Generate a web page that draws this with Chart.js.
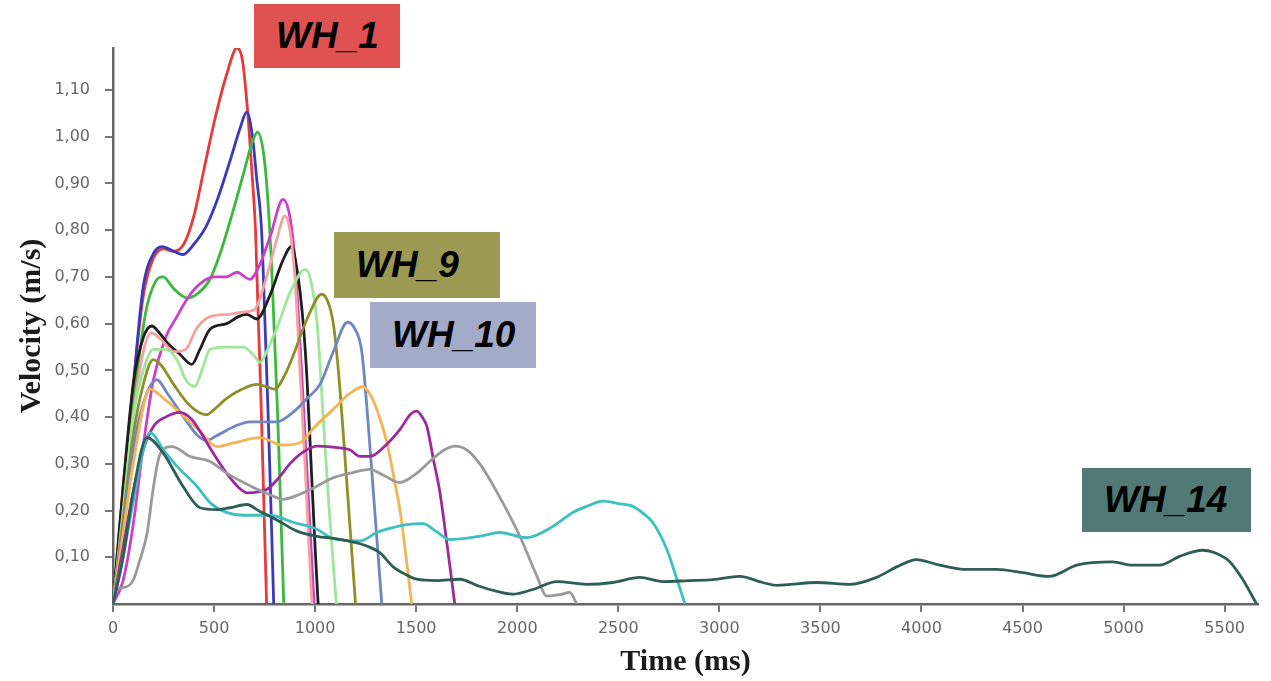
<!DOCTYPE html>
<html lang="en">
<head>
    <meta charset="UTF-8">
    <title>Velocity vs Time</title>
    <script src="https://cdn.jsdelivr.net/npm/chart.js"></script>
    <style>
        html, body { margin: 0; padding: 0; background: #fff; }
        .wrap { position: relative; width: 1271px; height: 681px; }
        .tag { position: absolute; box-sizing: border-box; padding-left: 22px; display: flex; align-items: center;
               font: italic bold 37px "Liberation Sans", Arial, sans-serif; color: #000; }
    </style>
</head>
<body>
<div class="wrap">
    <canvas id="velChart"></canvas>
    <div class="tag" style="left:254px; top:4px; width:146px; height:64px; background:#e05152;">WH_1</div>
    <div class="tag" style="left:334px; top:232px; width:166px; height:66px; background:#9c9a52;">WH_9</div>
    <div class="tag" style="left:370px; top:302px; width:166px; height:66px; background:#a3abc9;">WH_10</div>
    <div class="tag" style="left:1082px; top:468px; width:169px; height:64px; background:#517a77;">WH_14</div>
</div>

<script>
    // axis ticks
    const xTicks = [0, 500, 1000, 1500, 2000, 2500, 3000, 3500, 4000, 4500, 5000, 5500];
    const yTicks = [0.1, 0.2, 0.3, 0.4, 0.5, 0.6, 0.7, 0.8, 0.9, 1.0, 1.1];

    // [time ms, velocity m/s]
    const wh1 = [[0,0],[50,0.25],[100,0.47],[150,0.66],[200,0.74],[250,0.76],[300,0.755],[350,0.77],[400,0.83],[450,0.93],[500,1.03],[560,1.13],[614,1.19],[640,1.165],[663,1.07],[688,0.92],[705,0.8],[718,0.62],[732,0.44],[746,0.22],[760,0]];
    const blueRun = [[0,0],[50,0.23],[84,0.37],[120,0.56],[150,0.68],[200,0.75],[243,0.765],[300,0.755],[347,0.748],[400,0.77],[463,0.81],[520,0.87],[580,0.95],[630,1.02],[662,1.053],[690,1.0],[711,0.91],[735,0.8],[752,0.6],[768,0.4],[782,0.2],[795,0]];
    const greenRun = [[0,0],[50,0.2],[100,0.42],[160,0.62],[210,0.69],[248,0.70],[300,0.675],[366,0.655],[420,0.665],[480,0.695],[530,0.75],[580,0.82],[645,0.92],[690,0.99],[715,1.01],[743,0.97],[762,0.89],[785,0.72],[800,0.56],[815,0.4],[830,0.2],[845,0]];
    const magentaRun = [[0,0],[50,0.05],[100,0.17],[150,0.34],[200,0.48],[260,0.57],[316,0.615],[370,0.655],[430,0.685],[500,0.70],[560,0.70],[613,0.71],[677,0.695],[720,0.72],[780,0.79],[841,0.866],[870,0.84],[895,0.76],[920,0.6],[945,0.4],[970,0.2],[995,0]];
    const salmonRun = [[0,0],[50,0.18],[100,0.4],[150,0.54],[190,0.58],[240,0.565],[300,0.54],[360,0.545],[414,0.59],[480,0.615],[578,0.62],[645,0.625],[700,0.63],[760,0.70],[810,0.78],[850,0.83],[875,0.80],[900,0.7],[925,0.5],[950,0.3],[970,0.12],[985,0]];
    const blackRun = [[0,0],[50,0.25],[100,0.47],[150,0.57],[192,0.595],[230,0.58],[267,0.56],[330,0.535],[390,0.513],[430,0.545],[480,0.588],[562,0.60],[620,0.615],[662,0.62],[711,0.61],[776,0.66],[840,0.735],[885,0.766],[905,0.73],[925,0.67],[945,0.58],[960,0.48],[980,0.3],[1000,0.12],[1015,0]];
    const lightGreenRun = [[0,0],[50,0.2],[100,0.4],[150,0.5],[200,0.545],[260,0.545],[320,0.52],[360,0.48],[405,0.466],[440,0.5],[480,0.545],[560,0.55],[645,0.55],[700,0.53],[727,0.517],[770,0.55],[810,0.59],[880,0.67],[950,0.716],[980,0.69],[1010,0.6],[1040,0.4],[1070,0.2],[1105,0]];
    const wh9 = [[0,0],[50,0.18],[100,0.36],[150,0.47],[199,0.523],[240,0.51],[300,0.47],[380,0.425],[463,0.405],[510,0.42],[562,0.44],[640,0.46],[711,0.47],[760,0.465],[800,0.46],[850,0.49],[890,0.53],[960,0.61],[1033,0.663],[1065,0.645],[1090,0.6],[1115,0.5],[1140,0.36],[1170,0.18],[1200,0]];
    const wh10 = [[0,0],[50,0.16],[100,0.33],[150,0.43],[217,0.48],[270,0.45],[350,0.40],[420,0.36],[463,0.35],[512,0.36],[600,0.38],[677,0.39],[750,0.39],[810,0.39],[890,0.41],[960,0.44],[1024,0.47],[1090,0.54],[1160,0.603],[1195,0.59],[1231,0.54],[1260,0.4],[1295,0.2],[1330,0]];
    const orangeRun = [[0,0],[50,0.15],[100,0.3],[183,0.46],[250,0.44],[330,0.41],[430,0.37],[514,0.337],[600,0.345],[727,0.356],[841,0.34],[925,0.345],[1000,0.38],[1088,0.416],[1170,0.45],[1236,0.465],[1270,0.45],[1305,0.417],[1355,0.346],[1390,0.27],[1420,0.2],[1450,0.1],[1478,0]];
    const purpleRun = [[0,0],[50,0.12],[100,0.24],[150,0.33],[200,0.38],[260,0.40],[331,0.41],[390,0.395],[430,0.37],[500,0.32],[562,0.28],[620,0.25],[662,0.238],[760,0.245],[820,0.27],[875,0.30],[940,0.325],[1009,0.338],[1100,0.335],[1172,0.33],[1222,0.316],[1271,0.316],[1350,0.34],[1419,0.373],[1470,0.405],[1503,0.413],[1530,0.40],[1553,0.38],[1585,0.31],[1617,0.24],[1655,0.12],[1691,0]];
    const grayRun = [[0,0],[10,0.027],[50,0.035],[99,0.05],[130,0.09],[168,0.15],[200,0.25],[232,0.32],[292,0.337],[381,0.316],[480,0.305],[562,0.28],[692,0.25],[770,0.235],[841,0.224],[925,0.235],[1000,0.25],[1088,0.27],[1172,0.28],[1271,0.288],[1340,0.275],[1419,0.26],[1503,0.28],[1580,0.31],[1640,0.33],[1691,0.338],[1750,0.33],[1815,0.30],[1899,0.24],[2013,0.145],[2097,0.06],[2146,0.017],[2211,0.02],[2260,0.025],[2295,0]];
    const cyanRun = [[0,0],[50,0.1],[100,0.22],[150,0.33],[183,0.367],[250,0.33],[316,0.295],[415,0.252],[480,0.217],[562,0.196],[645,0.19],[776,0.19],[890,0.175],[1009,0.16],[1088,0.14],[1222,0.135],[1305,0.153],[1400,0.165],[1452,0.17],[1533,0.172],[1600,0.155],[1667,0.138],[1815,0.145],[1914,0.153],[2047,0.142],[2176,0.166],[2275,0.196],[2350,0.21],[2423,0.22],[2500,0.215],[2572,0.209],[2620,0.195],[2670,0.175],[2740,0.117],[2790,0.053],[2830,0]];
    const wh14 = [[0,0],[50,0.1],[100,0.24],[168,0.356],[247,0.324],[346,0.252],[430,0.206],[514,0.202],[578,0.206],[662,0.213],[727,0.198],[810,0.18],[910,0.156],[1009,0.145],[1100,0.14],[1172,0.134],[1256,0.124],[1320,0.11],[1385,0.08],[1440,0.065],[1503,0.053],[1600,0.05],[1716,0.053],[1800,0.04],[1864,0.031],[1978,0.021],[2077,0.031],[2196,0.048],[2344,0.042],[2473,0.046],[2606,0.057],[2720,0.048],[2850,0.05],[2967,0.052],[3101,0.059],[3215,0.046],[3284,0.04],[3482,0.046],[3645,0.042],[3778,0.057],[3880,0.08],[3976,0.095],[4075,0.085],[4223,0.074],[4372,0.074],[4500,0.067],[4634,0.059],[4768,0.083],[4946,0.09],[5045,0.083],[5178,0.083],[5277,0.102],[5391,0.115],[5460,0.108],[5524,0.091],[5589,0.053],[5658,0]];

    const runs = [
        { label: 'WH_14', data: wh14, color: '#2e5e56' },
        { label: 'cyan', data: cyanRun, color: '#3fbfbf' },
        { label: 'gray', data: grayRun, color: '#9a9a9a' },
        { label: 'purple', data: purpleRun, color: '#9c2a9c' },
        { label: 'orange', data: orangeRun, color: '#f2b457' },
        { label: 'WH_10', data: wh10, color: '#6f86c2' },
        { label: 'WH_9', data: wh9, color: '#8f8f2a' },
        { label: 'light green', data: lightGreenRun, color: '#9ee69a' },
        { label: 'salmon', data: salmonRun, color: '#f2a3a0' },
        { label: 'black', data: blackRun, color: '#1e1e1e' },
        { label: 'magenta', data: magentaRun, color: '#cc3fcc' },
        { label: 'green', data: greenRun, color: '#3cb83c' },
        { label: 'blue', data: blueRun, color: '#3a3ab8' },
        { label: 'WH_1', data: wh1, color: '#e8393b' }
    ];

    const datasets = runs.map(r => ({
        label: r.label,
        data: r.data.map(p => ({ x: p[0], y: p[1] })),
        borderColor: r.color,
        borderWidth: 2.8,
        pointRadius: 0,
        fill: false,
        cubicInterpolationMode: 'monotone'
    }));

    const canvas = document.getElementById('velChart');

    new Chart(canvas, {
        type: 'line',
        data: { datasets: datasets },
        options: {
            responsive: true,
            maintainAspectRatio: false,
            animation: false,
            layout: { padding: { top: 48, right: 13, left: 0, bottom: 0 } },
            plugins: { legend: { display: false }, tooltip: { enabled: false } },
            scales: {
                x: {
                    type: 'linear',
                    min: 0,
                    max: 5665,
                    afterFit: function (s) { s.height = 77; },
                    // use the fixed tick list
                    afterBuildTicks: function (s) { s.ticks = xTicks.map(v => ({ value: v })); },
                    ticks: {
                        autoSkip: false,
                        color: '#666',
                        padding: 7,
                        maxRotation: 0,
                        font: { family: 'DejaVu Sans', size: 16 },
                        callback: v => String(v)
                    },
                    grid: { drawOnChartArea: false, drawTicks: true, tickLength: 8, color: '#777', lineWidth: 2 },
                    border: { display: true, color: '#666', width: 2.5 },
                    title: {
                        display: true,
                        text: 'Time (ms)',
                        color: '#1a1a1a',
                        font: { family: 'Liberation Serif', size: 30, weight: 'bold' },
                        padding: { top: 0, bottom: 1 }
                    }
                },
                y: {
                    min: 0,
                    max: 1.19,
                    afterFit: function (s) { s.width = 113; },
                    afterBuildTicks: function (s) { s.ticks = yTicks.map(v => ({ value: v })); },
                    ticks: {
                        autoSkip: false,
                        color: '#666',
                        padding: 15,
                        font: { family: 'DejaVu Sans', size: 16 },
                        callback: v => v.toFixed(2).replace('.', ',')
                    },
                    grid: { drawOnChartArea: false, drawTicks: true, tickLength: 8, color: '#777', lineWidth: 2 },
                    border: { display: true, color: '#666', width: 2.5 },
                    title: {
                        display: true,
                        text: 'Velocity (m/s)',
                        color: '#1a1a1a',
                        font: { family: 'Liberation Serif', size: 30, weight: 'bold' },
                        padding: { top: 14, bottom: 0 }
                    }
                }
            }
        }
    });
</script>
</body>
</html>
